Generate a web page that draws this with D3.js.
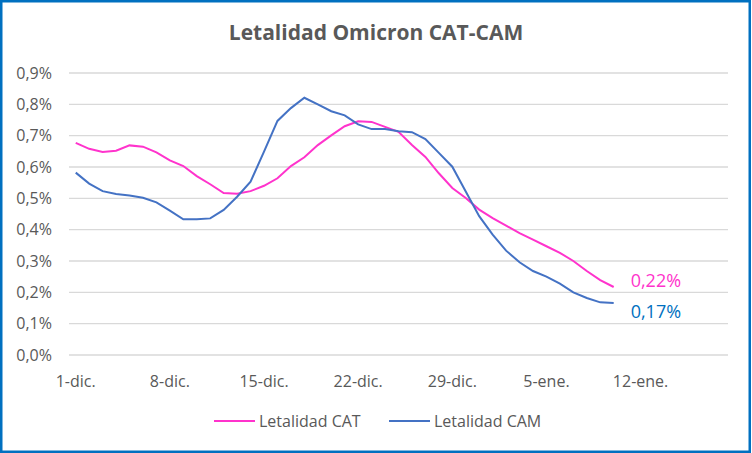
<!DOCTYPE html>
<html>
<head>
<meta charset="utf-8">
<script src="https://cdn.jsdelivr.net/npm/d3@7"></script>
<style>
  body { margin: 0; background: #fff; }
  text { font-family: "Open Sans", "Noto Sans", sans-serif; }
</style>
</head>
<body>
<script>
  // dias del eje (1-dic. a 18-ene.)
  const days = [
    "1-dic.","2-dic.","3-dic.","4-dic.","5-dic.","6-dic.","7-dic.","8-dic.","9-dic.","10-dic.",
    "11-dic.","12-dic.","13-dic.","14-dic.","15-dic.","16-dic.","17-dic.","18-dic.","19-dic.","20-dic.",
    "21-dic.","22-dic.","23-dic.","24-dic.","25-dic.","26-dic.","27-dic.","28-dic.","29-dic.","30-dic.",
    "31-dic.","1-ene.","2-ene.","3-ene.","4-ene.","5-ene.","6-ene.","7-ene.","8-ene.","9-ene.",
    "10-ene.","11-ene.","12-ene.","13-ene.","14-ene.","15-ene.","16-ene.","17-ene.","18-ene."
  ];
  const tickLabels = ["1-dic.", "8-dic.", "15-dic.", "22-dic.", "29-dic.", "5-ene.", "12-ene."];
  const yTicks = [0, 0.1, 0.2, 0.3, 0.4, 0.5, 0.6, 0.7, 0.8, 0.9];

  // letalidad en %
  const cat = [0.677, 0.658, 0.648, 0.652, 0.669, 0.665, 0.647, 0.621, 0.603, 0.571,
               0.545, 0.517, 0.515, 0.523, 0.540, 0.564, 0.603, 0.631, 0.670, 0.701,
               0.730, 0.746, 0.744, 0.728, 0.712, 0.670, 0.632, 0.580, 0.533, 0.501,
               0.464, 0.437, 0.413, 0.389, 0.368, 0.347, 0.326, 0.300, 0.268, 0.239, 0.217];
  const cam = [0.582, 0.547, 0.523, 0.514, 0.509, 0.502, 0.487, 0.461, 0.433, 0.433,
               0.436, 0.463, 0.505, 0.553, 0.649, 0.747, 0.788, 0.821, 0.800, 0.778,
               0.765, 0.736, 0.721, 0.721, 0.714, 0.711, 0.689, 0.645, 0.601, 0.522,
               0.443, 0.384, 0.333, 0.296, 0.268, 0.250, 0.228, 0.200, 0.182, 0.168, 0.166];

  const w = 752, h = 453;
  const pink = "#FF33CC", blue = "#4472C4", labelBlue = "#0070C0", grey = "#595959";

  const svg = d3.select("body").append("svg")
    .attr("width", w).attr("height", h);

  svg.append("rect")
    .attr("x", 1.25).attr("y", 1.25)
    .attr("width", w - 3.5).attr("height", h - 2.5)
    .attr("fill", "#fff")
    .attr("stroke", "#0070C0").attr("stroke-width", 2.5);

  const x = d3.scaleBand().domain(days).range([69, 728]);
  const y = d3.scaleLinear().domain([0, 0.9]).range([355, 73]);
  const cx = d => x(d) + x.bandwidth() / 2;

  // rejilla
  svg.append("g").selectAll("line")
    .data(yTicks).enter().append("line")
    .attr("x1", 69).attr("x2", 728)
    .attr("y1", d => y(d)).attr("y2", d => y(d))
    .attr("stroke", "#D9D9D9").attr("stroke-width", 1.3);

  // eje y
  const yAxis = svg.append("g")
    .attr("transform", "translate(58,0)")
    .call(d3.axisLeft(y).tickValues(yTicks).tickSize(0).tickPadding(6)
      .tickFormat(d => d3.format(".1f")(d).replace(".", ",") + "%"));
  yAxis.select(".domain").remove();
  yAxis.selectAll("text").attr("fill", grey).attr("font-size", 16);

  // eje x
  const xAxis = svg.append("g")
    .attr("transform", "translate(0,355)")
    .call(d3.axisBottom(x).tickValues(tickLabels).tickSize(0));
  xAxis.select(".domain").remove();
  xAxis.selectAll("text").attr("fill", grey).attr("font-size", 16)
    .attr("y", 26).attr("dy", "0.35em");

  const line = d3.line()
    .x((d, i) => cx(days[i]))
    .y(d => y(d));

  svg.append("path").datum(cat)
    .attr("d", line).attr("fill", "none")
    .attr("stroke", pink).attr("stroke-width", 2);
  svg.append("path").datum(cam)
    .attr("d", line).attr("fill", "none")
    .attr("stroke", blue).attr("stroke-width", 2);

  const fmt = v => d3.format(".2f")(v).replace(".", ",") + "%";
  const last = cat.length - 1;
  svg.append("text")
    .attr("x", cx(days[last]) + 17).attr("y", y(cat[last]) - 0.5)
    .attr("fill", pink).attr("font-size", 18)
    .text(fmt(cat[last]));
  svg.append("text")
    .attr("x", cx(days[last]) + 17).attr("y", y(cam[last]) + 15)
    .attr("fill", labelBlue).attr("font-size", 18)
    .text(fmt(cam[last]));

  // titulo
  svg.append("text")
    .attr("x", 376).attr("y", 40)
    .attr("text-anchor", "middle")
    .attr("fill", grey).attr("font-size", 21).attr("font-weight", "bold")
    .text("Letalidad Omicron CAT-CAM");

  // leyenda
  const legend = [
    { name: "Letalidad CAT", color: pink, x: 214 },
    { name: "Letalidad CAM", color: blue, x: 389 }
  ];
  const lg = svg.append("g").selectAll("g")
    .data(legend).enter().append("g")
    .attr("transform", d => `translate(${d.x},421)`);
  lg.append("line")
    .attr("x1", 0).attr("x2", 41)
    .attr("stroke", d => d.color).attr("stroke-width", 2);
  lg.append("text")
    .attr("x", 45).attr("dy", "0.35em")
    .attr("fill", grey).attr("font-size", 16)
    .text(d => d.name);
</script>
</body>
</html>
